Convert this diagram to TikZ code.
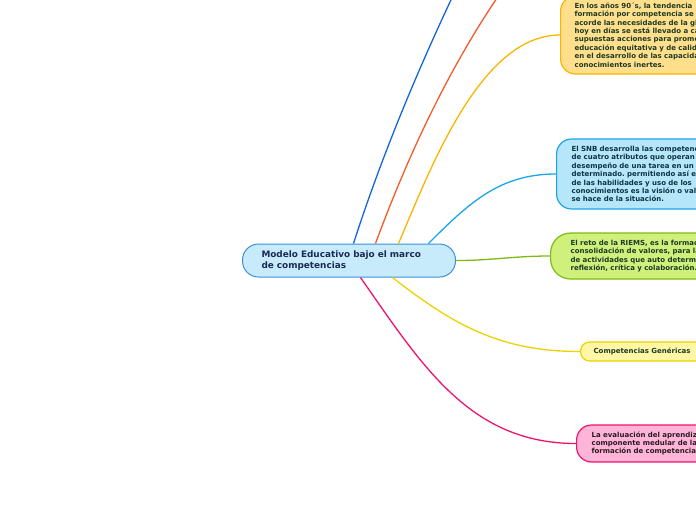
\documentclass[tikz,border=0pt]{standalone}
\usepackage{fontspec}
\setmainfont{DejaVu Sans}
\usetikzlibrary{calc}
\definecolor{navy}{HTML}{1B2A55}
\definecolor{ink}{HTML}{1E3A24}
\definecolor{inkblue}{HTML}{0E3442}
\definecolor{inkpink}{HTML}{2A1A22}
\definecolor{rootfill}{HTML}{C8EBFB}
\definecolor{rootdraw}{HTML}{3D8FD8}
\definecolor{lnblue}{HTML}{1565D8}
\definecolor{lnorange}{HTML}{F55A2A}
\definecolor{lnamber}{HTML}{F8B500}
\definecolor{ambfill}{HTML}{FFDF8C}
\definecolor{skyfill}{HTML}{B5E6FA}
\definecolor{skydraw}{HTML}{1AA5E8}
\definecolor{limefill}{HTML}{CFF17C}
\definecolor{limedraw}{HTML}{80BA10}
\definecolor{lemfill}{HTML}{FFF7A6}
\definecolor{lemdraw}{HTML}{EBD200}
\definecolor{pinkfill}{HTML}{FFB5D8}
\definecolor{pinkdraw}{HTML}{F0136E}

\begin{document}
\frenchspacing
\begin{tikzpicture}[x=1pt,y=-1pt,
  topic/.style={draw,line width=1.2pt,rounded corners=15pt,anchor=west,align=left,
    text width=180pt,inner xsep=14pt,font=\fontsize{7}{8.4}\selectfont\bfseries},
  link/.style={line width=1.3pt}]
\useasboundingbox (0,0) rectangle (696,520);
\clip (0,0) rectangle (696,520);

% central topic
\node[draw=rootdraw,fill=rootfill,line width=1pt,rounded corners=16pt,anchor=west,
  align=left,text width=175pt,inner xsep=19pt,minimum height=33pt,text=navy,
  font=\fontsize{8.9}{11.5}\selectfont\bfseries] (modelo) at (242,260.5)
  {Modelo Educativo bajo el marco\\de competencias};

% subtopics
\node[topic,draw=lnamber,fill=ambfill,text=ink,minimum height=78pt] (noventa) at (560,35)
  {En los años 90´s, la tendencia\\formación por competencia se enfoca\\acorde las necesidades de la globalización\\hoy en días se está llevado a cabo\\supuestas acciones para promover\\educación equitativa y de calidad\\en el desarrollo de las capacidades\\conocimientos inertes.};
\node[topic,draw=skydraw,fill=skyfill,text=inkblue,minimum height=70pt,inner xsep=15pt] (snb) at (556,174)
  {El SNB desarrolla las competencias\\de cuatro atributos que operan en\\desempeño de una tarea en un contexto\\determinado. permitiendo así el\\de las habilidades y uso de los\\conocimientos es la visión o valoración\\se hace de la situación.};
\node[topic,draw=limedraw,fill=limefill,text=ink,minimum height=46pt,rounded corners=20pt,inner xsep=20pt] (riems) at (550,256)
  {El reto de la RIEMS, es la formación\\consolidación de valores, para la\\de actividades que auto determinen\\reflexión, crítica y colaboración.};
\node[topic,draw=lemdraw,fill=lemfill,text=ink,minimum height=19pt,rounded corners=9pt,inner xsep=13pt] (genericas) at (580,351.5)
  {Competencias Genéricas};
\node[topic,draw=pinkdraw,fill=pinkfill,text=inkpink,minimum height=37pt,inner xsep=15pt] (evaluacion) at (576,443.5)
  {La evaluación del aprendizaje\\componente medular de la\\formación de competencias};

% branches
\coordinate (far1) at (480,-60);
\coordinate (far2) at (540,-60);
\draw[link,lnblue] ($(modelo.north)+(4.5,0)$) .. controls (390,130) and (440,20) .. (far1);
\draw[link,lnorange] ($(modelo.north)+(26.5,0)$) .. controls (410,150) and (462,35) .. (far2);
\draw[link,lnamber] ($(modelo.north)+(49.5,0)$) .. controls (430,170) and (480,35) .. (noventa.west);
\draw[link,skydraw] ($(modelo.north)+(79.5,0)$) to[out=45,in=180] (snb.west);
\draw[link,limedraw] (modelo.east) to[out=0,in=180] (riems.west);
\draw[link,lemdraw] ($(modelo.south)+(43.5,0)$) to[out=-38,in=180] (genericas.west);
\draw[link,pinkdraw] ($(modelo.south)+(11.5,0)$) to[out=-55,in=180] (evaluacion.west);
\end{tikzpicture}
\end{document}
